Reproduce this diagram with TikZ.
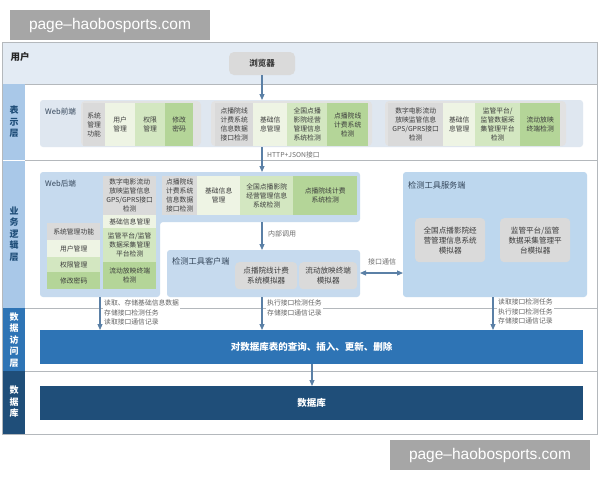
\documentclass[tikz,border=0pt]{standalone}
\usepackage{fontspec}
\setmainfont{Noto Sans CJK SC}
\newfontfamily\wmfont{Liberation Sans}
\usetikzlibrary{arrows.meta}
\definecolor{userbg}{HTML}{E3EBF4}
\definecolor{sidelt}{HTML}{A9C8E8}
\definecolor{sidemid}{HTML}{2E74B5}
\definecolor{sidedk}{HTML}{1F4E79}
\definecolor{frontbg}{HTML}{DFE7F0}
\definecolor{backbg}{HTML}{C6DAEE}
\definecolor{servbg}{HTML}{BDD7EE}
\definecolor{grpbg}{HTML}{E2E2E2}
\definecolor{cgray}{HTML}{DADADA}
\definecolor{cvl}{HTML}{EEF4E4}
\definecolor{clg}{HTML}{D3E7C1}
\definecolor{cgr}{HTML}{B4D598}
\definecolor{txt}{HTML}{3C3C3C}
\definecolor{ttl}{HTML}{34465A}
\definecolor{arr}{HTML}{5B80A6}
\definecolor{lin}{HTML}{B4B8BC}
\definecolor{wmgray}{HTML}{A6A6A6}
\begin{document}
\begin{tikzpicture}[x=1pt,y=-1pt,
  cell/.style={anchor=north west, inner sep=0pt, align=center, text=txt, font=\fontsize{6.8}{9}\selectfont},
  cgrayb/.style={cell, fill=cgray},
  cvlb/.style={cell, fill=cvl},
  clgb/.style={cell, fill=clg},
  cgrb/.style={cell, fill=cgr},
  simbox/.style={anchor=north west, inner sep=0pt, align=center, text=txt, fill=cgray, rounded corners=4pt, font=\fontsize{7.6}{10}\selectfont},
  paneltitle/.style={anchor=west, inner sep=1pt, text=ttl, font=\fontsize{7.6}{9}\selectfont},
  sidelabel/.style={align=center, inner sep=0pt, font=\bfseries\fontsize{9}{11.5}\selectfont},
  flow/.style={draw=arr, line width=1.1pt, -{Triangle[width=5pt,length=6pt]}},
  flowlabel/.style={anchor=north west, inner sep=1pt, fill=white, align=left, text=txt!80, font=\fontsize{6.8}{9.5}\selectfont},
  layerline/.style={draw=lin, line width=0.8pt},
  wm/.style={fill=wmgray, text=white, inner sep=0pt, minimum width=200pt, minimum height=30pt, font=\wmfont\fontsize{15.5}{17}\selectfont}
]
\useasboundingbox (0,0) rectangle (600,480);
\fill[white] (0,0) rectangle (600,480);

% frame and user band
\fill[userbg] (2,42) rectangle (597,84);
\draw[lin, line width=0.8pt] (2,42) rectangle (597,434);
\draw[layerline] (2,84) -- (597,84);
\node[anchor=west, font=\bfseries\fontsize{9.5}{11}\selectfont, text=black!85] (usr) at (7,57) {用户};
\node[fill=cgray, rounded corners=5pt, minimum width=66pt, minimum height=23pt, inner sep=0pt, font=\bfseries\fontsize{8.5}{10}\selectfont, text=txt] (browser) at (262,63.5) {浏览器};

% sidebar
\fill[sidelt] (3,84) rectangle (25,308);
\draw[white, line width=1pt] (3,160) -- (25,160);
\fill[sidemid] (3,308) rectangle (25,371);
\fill[sidedk] (3,371) rectangle (25,434);
\node[sidelabel, text=sidedk] (l1) at (14,122) {表\\示\\层};
\node[sidelabel, text=sidedk] (l2) at (14,234) {业\\务\\逻\\辑\\层};
\node[sidelabel, text=white] (l3) at (14,340) {数\\据\\访\\问\\层};
\node[sidelabel, text=white] (l4) at (14,402) {数\\据\\库};

% layer lines
\draw[layerline] (25,160) -- (597,160);
\draw[layerline] (25,308) -- (597,308);
\draw[layerline] (25,371) -- (597,371);

% ===== presentation layer
\fill[frontbg, rounded corners=3pt] (40,100) rectangle (583,147);
\node[paneltitle] (webfront) at (44,112) {Web前端};
\fill[grpbg, rounded corners=4pt] (81,101) rectangle (201,146);
\fill[grpbg, rounded corners=4pt] (211,101) rectangle (372,146);
\fill[grpbg, rounded corners=4pt] (385,101) rectangle (566,146);
\node[cgrayb, minimum width=22pt, minimum height=43pt] (p11) at (83,103) {系统\\管理\\功能};
\node[cvlb, minimum width=30pt, minimum height=43pt] (p12) at (105,103) {用户\\管理};
\node[clgb, minimum width=30pt, minimum height=43pt] (p13) at (135,103) {权限\\管理};
\node[cgrb, minimum width=28pt, minimum height=43pt] (p14) at (165,103) {修改\\密码};
\node[cgrayb, minimum width=38pt, minimum height=43pt] (p21) at (215,103) {点播院线\\计费系统\\信息数据\\接口检测};
\node[cvlb, minimum width=34pt, minimum height=43pt] (p22) at (253,103) {基础信\\息管理};
\node[clgb, minimum width=40pt, minimum height=43pt] (p23) at (287,103) {全国点播\\影院经营\\管理信息\\系统检测};
\node[cgrb, minimum width=41pt, minimum height=43pt] (p24) at (327,103) {点播院线\\计费系统\\检测};
\node[cgrayb, minimum width=55pt, minimum height=43pt] (p31) at (388,103) {数字电影流动\\放映监管信息\\GPS/GPRS接口\\检测};
\node[cvlb, minimum width=32pt, minimum height=43pt] (p32) at (443,103) {基础信\\息管理};
\node[clgb, minimum width=45pt, minimum height=43pt] (p33) at (475,103) {监管平台/\\监管数据采\\集管理平台\\检测};
\node[cgrb, minimum width=40pt, minimum height=43pt] (p34) at (520,103) {流动放映\\终端检测};
\coordinate (fronttop) at (262,100);
\coordinate (frontbot) at (262,147);
\draw[flow] (browser.south) -- (fronttop);

% ===== business layer
\fill[backbg, rounded corners=3pt] (40,172) -- (360,172) -- (360,222) -- (160,222) -- (160,297) -- (40,297) -- cycle;
\node[paneltitle] (webback) at (44,184) {Web后端};
\coordinate (backtop) at (262,172);
\coordinate (backbot) at (262,222);
\coordinate (backleft) at (100,297);
\draw[flow] (frontbot) -- (backtop);
\node[anchor=west, inner sep=1pt, text=txt!75, font=\fontsize{6.8}{8}\selectfont] (httplbl) at (266,155) {HTTP+JSON接口};

\node[cgrayb, minimum width=53pt, minimum height=17pt] (b11) at (47,223) {系统管理功能};
\node[cvlb, minimum width=53pt, minimum height=17pt] (b12) at (47,240) {用户管理};
\node[clgb, minimum width=53pt, minimum height=15pt] (b13) at (47,257) {权限管理};
\node[cgrb, minimum width=53pt, minimum height=17pt] (b14) at (47,272) {修改密码};
\node[cgrayb, minimum width=53pt, minimum height=39pt] (b21) at (103,176) {数字电影流动\\放映监管信息\\GPS/GPRS接口\\检测};
\node[cvlb, minimum width=53pt, minimum height=13pt] (b22) at (103,215) {基础信息管理};
\node[clgb, minimum width=53pt, minimum height=34pt] (b23) at (103,228) {监管平台/监管\\数据采集管理\\平台检测};
\node[cgrb, minimum width=53pt, minimum height=27pt] (b24) at (103,262) {流动放映终端\\检测};
\node[cgrayb, minimum width=35pt, minimum height=39pt] (b31) at (162,176) {点播院线\\计费系统\\信息数据\\接口检测};
\node[cvlb, minimum width=43pt, minimum height=39pt] (b32) at (197,176) {基础信息\\管理};
\node[clgb, minimum width=53pt, minimum height=39pt] (b33) at (240,176) {全国点播影院\\经营管理信息\\系统检测};
\node[cgrb, minimum width=64pt, minimum height=39pt] (b34) at (293,176) {点播院线计费\\系统检测};

% client panel
\fill[backbg, rounded corners=3pt] (167,250) rectangle (360,297);
\node[paneltitle, font=\fontsize{8.2}{10}\selectfont] (client) at (171,261) {检测工具客户端};
\node[simbox, minimum width=62pt, minimum height=27pt] (c1) at (235,262) {点播院线计费\\系统模拟器};
\node[simbox, minimum width=58pt, minimum height=27pt] (c2) at (299,262) {流动放映终端\\模拟器};
\coordinate (clienttop) at (262,250);
\coordinate (clientbot) at (262,297);
\coordinate (clientright) at (360,273);
\draw[flow] (backbot) -- (clienttop);
\node[anchor=west, inner sep=1pt, text=txt!75, font=\fontsize{7}{8}\selectfont] (innerlbl) at (267,234) {内部调用};

% server panel
\fill[servbg, rounded corners=3pt] (403,172) rectangle (587,297);
\node[paneltitle, font=\fontsize{8.2}{10}\selectfont] (server) at (407,185) {检测工具服务端};
\node[simbox, minimum width=70pt, minimum height=44pt] (s1) at (415,218) {全国点播影院经\\营管理信息系统\\模拟器};
\node[simbox, minimum width=70pt, minimum height=44pt] (s2) at (500,218) {监管平台/监管\\数据采集管理平\\台模拟器};
\coordinate (serverleft) at (403,273);
\coordinate (serverbot) at (493,297);
\draw[draw=arr, line width=1.1pt, {Triangle[width=5pt,length=6pt]}-{Triangle[width=5pt,length=6pt]}] (clientright) -- (serverleft);
\node[anchor=south, inner sep=1pt, text=txt!75, font=\fontsize{7}{8}\selectfont] (iflbl) at (382,266) {接口通信};

% ===== data access layer
\node[fill=sidemid, text=white, anchor=north west, inner sep=0pt, minimum width=543pt, minimum height=34pt, font=\bfseries\fontsize{9.5}{11}\selectfont] (dal) at (40,330) {对数据库表的查询、插入、更新、删除};
\draw[flow] (backleft) -- (backleft |- dal.north);
\draw[flow] (clientbot) -- (clientbot |- dal.north);
\draw[flow] (serverbot) -- (serverbot |- dal.north);
\node[flowlabel] (f1) at (103,299) {读取、存储基础信息数据\\存储接口检测任务\\读取接口通信记录};
\node[flowlabel] (f2) at (266,299) {执行接口检测任务\\存储接口通信记录};
\node[flowlabel] (f3) at (497,298) {读取接口检测任务\\执行接口检测任务\\存储接口通信记录};

% ===== database
\node[fill=sidedk, text=white, anchor=north west, inner sep=0pt, minimum width=543pt, minimum height=34pt, font=\bfseries\fontsize{9.5}{11}\selectfont] (db) at (40,386) {数据库};
\draw[flow] (312,364) coordinate (dalbot) -- (dalbot |- db.north);

% watermarks
\node[wm] (wm1) at (110,25) {page–haobosports.com};
\node[wm] (wm2) at (490,455) {page–haobosports.com};
\end{tikzpicture}
\end{document}
